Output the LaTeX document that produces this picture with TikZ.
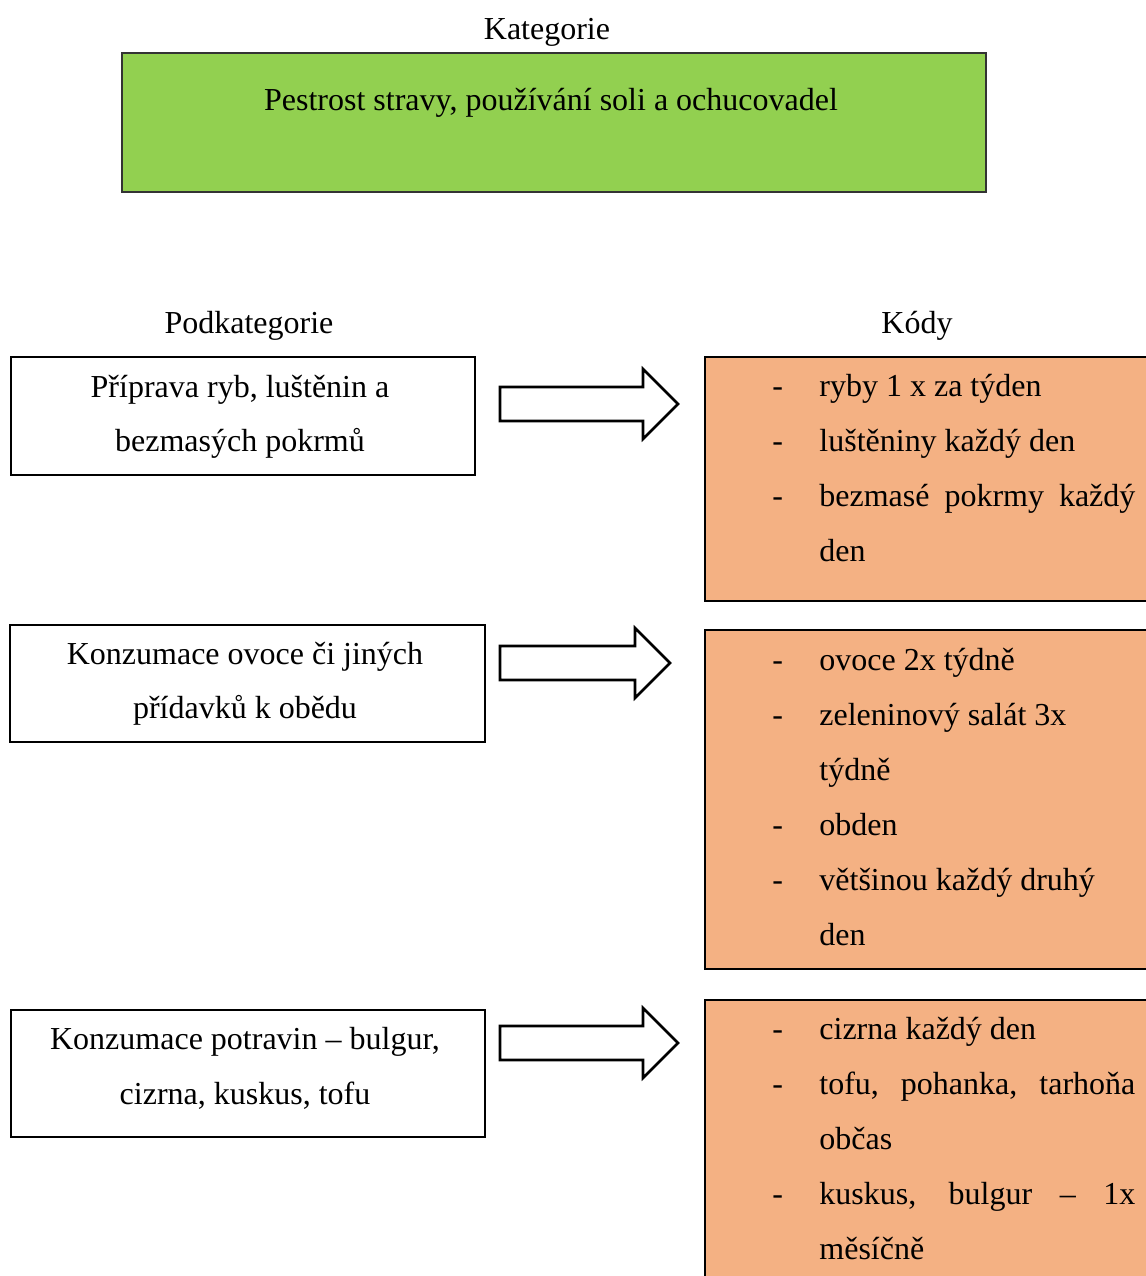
\documentclass[tikz,border=0pt]{standalone}
\usepackage{fontspec}
\setmainfont{Liberation Serif}
\usetikzlibrary{calc}
\definecolor{grassgreen}{RGB}{146,208,80}
\definecolor{peach}{RGB}{244,177,131}

% hollow block arrow between two named points
\newcommand{\blockarrow}[2]{%
  \draw[hollowarrow] let \p1=(#1), \p2=(#2) in
    (\x1,\y1+8.5pt) -- (\x2-17.5pt,\y1+8.5pt) -- (\x2-17.5pt,\y1+17.5pt) -- (\x2,\y1)
    -- (\x2-17.5pt,\y1-17.5pt) -- (\x2-17.5pt,\y1-8.5pt) -- (\x1,\y1-8.5pt) -- cycle;}

\begin{document}
\begin{tikzpicture}[
                x=0.5pt, y=-0.5pt,
                line join=miter,
                every node/.style={font=\fontsize{16}{18}\selectfont, inner sep=0pt},
                greenbox/.style={draw=black!80, line width=1pt, fill=grassgreen},
                subbox/.style={draw=black, line width=1.3pt, fill=white},
                codebox/.style={draw=black, line width=1.3pt, fill=peach},
                hollowarrow/.style={draw=black, line width=1.3pt, fill=white},
                plaintext/.style={anchor=base},
                codetext/.style={anchor=base west}
                ]
                \useasboundingbox (0,0) rectangle (1146,1276);
                \clip (0,0) rectangle (1146,1276);

                %% Category
                \node[plaintext] (cattitle) at (547,39) {Kategorie};
                \node[greenbox, minimum width=432pt, minimum height=69.5pt] (cat) at (554,122.5) {};
                \node[plaintext] (cattext) at (551,110) {Pestrost stravy, používání soli a ochucovadel};

                %% Column heads
                \node[plaintext] (subtitle) at (249,333) {Podkategorie};
                \node[plaintext] (codetitle) at (917,333) {Kódy};

                %% Subcategories
                \node[subbox, minimum width=232pt, minimum height=59pt] (sub1) at (243,416) {};
                \node[plaintext] (sub1a) at (240,397) {Příprava ryb, luštěnin a};
                \node[plaintext] (sub1b) at (240,451) {bezmasých pokrmů};

                \node[subbox, minimum width=237.5pt, minimum height=58.5pt] (sub2) at (247.5,683.5) {};
                \node[plaintext] (sub2a) at (245,664) {Konzumace ovoce či jiných};
                \node[plaintext] (sub2b) at (245,718) {přídavků k obědu};

                \node[subbox, minimum width=237pt, minimum height=63.5pt] (sub3) at (248,1073.5) {};
                \node[plaintext] (sub3a) at (245,1049) {Konzumace potravin – bulgur,};
                \node[plaintext] (sub3b) at (245,1104) {cizrna, kuskus, tofu};

                %% Codes
                \node[codebox, minimum width=227.5pt, minimum height=122pt] (code1) at (932.5,479) {};
                \node[codetext] (d1a) at (772,396) {-};
                \node[codetext] (c1a) at (819,396) {ryby 1 x za týden};
                \node[codetext] (d1b) at (772,451) {-};
                \node[codetext] (c1b) at (819,451) {luštěniny každý den};
                \node[codetext] (d1c) at (772,506) {-};
                \node[codetext] (c1c) at (819,506) {\makebox[158pt][s]{bezmasé pokrmy každý}};
                \node[codetext] (c1d) at (819,561) {den};

                \node[codebox, minimum width=227.5pt, minimum height=169.5pt] (code2) at (932.5,799.5) {};
                \node[codetext] (d2a) at (772,670) {-};
                \node[codetext] (c2a) at (819,670) {ovoce 2x týdně};
                \node[codetext] (d2b) at (772,725) {-};
                \node[codetext] (c2b) at (819,725) {zeleninový salát 3x};
                \node[codetext] (c2c) at (819,780) {týdně};
                \node[codetext] (d2d) at (772,835) {-};
                \node[codetext] (c2d) at (819,835) {obden};
                \node[codetext] (d2e) at (772,890) {-};
                \node[codetext] (c2e) at (819,890) {většinou každý druhý};
                \node[codetext] (c2f) at (819,945) {den};

                \node[codebox, minimum width=227.5pt, minimum height=150pt] (code3) at (932.5,1150) {};
                \node[codetext] (d3a) at (772,1039) {-};
                \node[codetext] (c3a) at (819,1039) {cizrna každý den};
                \node[codetext] (d3b) at (772,1094) {-};
                \node[codetext] (c3b) at (819,1094) {\makebox[158pt][s]{tofu, pohanka, tarhoňa}};
                \node[codetext] (c3c) at (819,1149) {občas};
                \node[codetext] (d3d) at (772,1204) {-};
                \node[codetext] (c3d) at (819,1204) {\makebox[158pt][s]{kuskus, bulgur – 1x}};
                \node[codetext] (c3e) at (819,1259) {měsíčně};

                %% Arrows
                \coordinate (a1s) at (500,404);
                \coordinate (a1e) at (678,404);
                \coordinate (a2s) at (500,663);
                \coordinate (a2e) at (670,663);
                \coordinate (a3s) at (500,1043);
                \coordinate (a3e) at (678,1043);
                \blockarrow{a1s}{a1e}
                \blockarrow{a2s}{a2e}
                \blockarrow{a3s}{a3e}
\end{tikzpicture}
\end{document}
